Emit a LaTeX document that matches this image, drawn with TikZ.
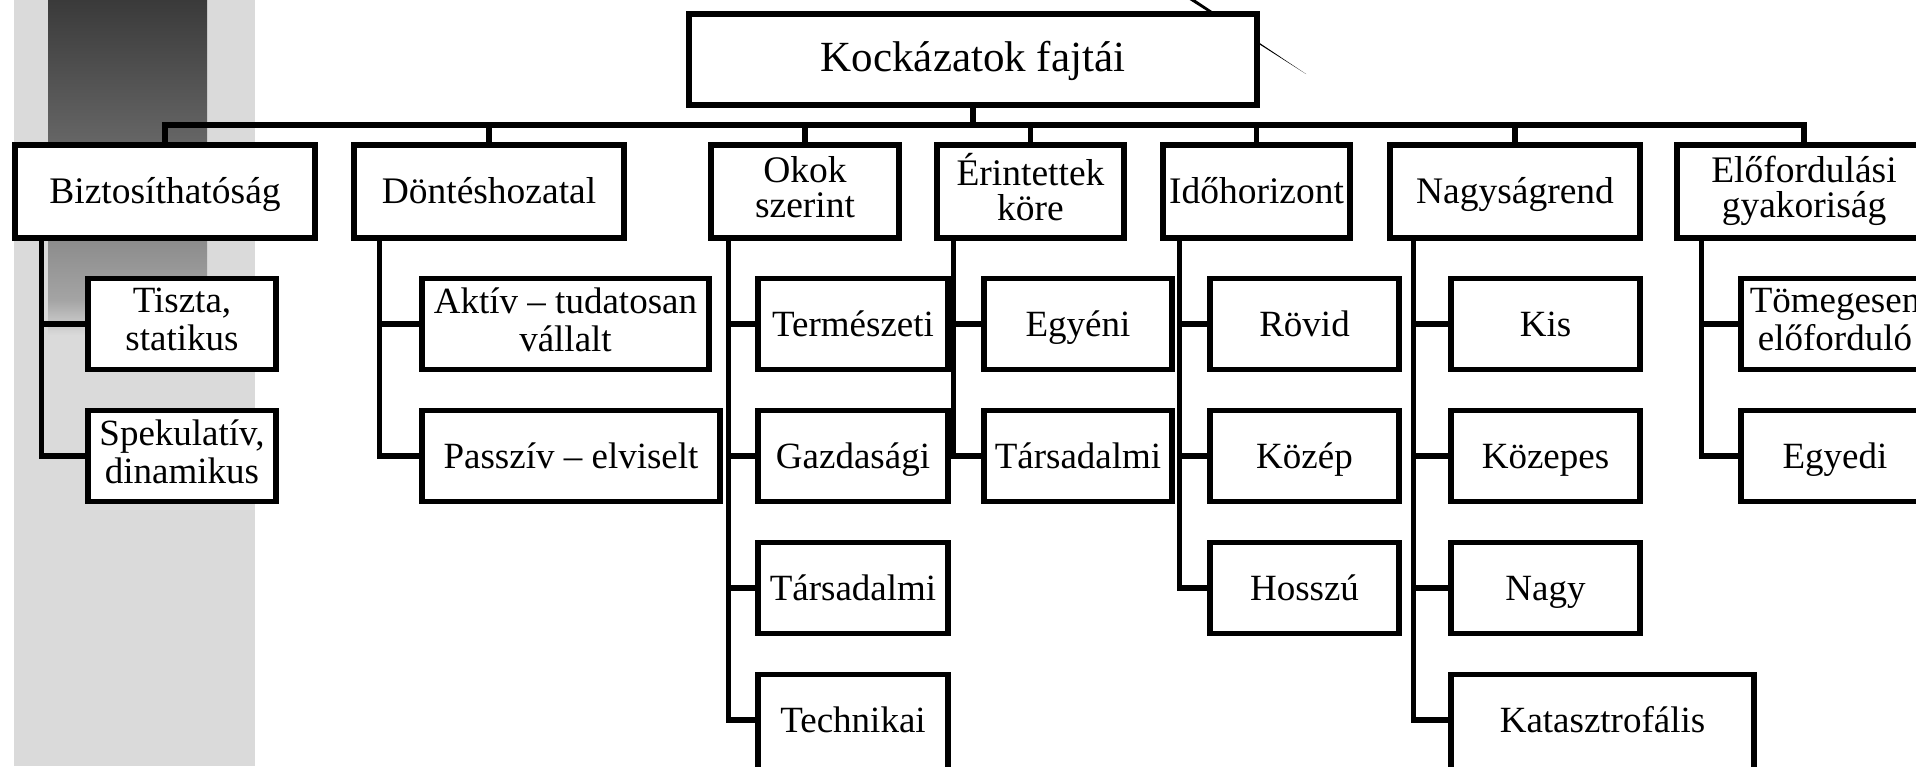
\documentclass[tikz,border=0pt]{standalone}
\usepackage{fontspec}
\setmainfont{Liberation Serif}
\definecolor{stripgray}{HTML}{DADADA}
\definecolor{bartop}{HTML}{3A3A3A}
\definecolor{barmid}{HTML}{686868}
\definecolor{barlow}{HTML}{A4A4A4}
\newcommand{\topstrut}{\rule{0pt}{17pt}}
\newcommand{\botstrut}{\rule[-4.8pt]{0pt}{4.8pt}}
\begin{document}
\begin{tikzpicture}[x=0.5pt,y=-0.5pt,
  box/.style={draw=black, line width=2.75pt, fill=white, inner sep=0pt, align=center,
    font=\fontsize{18.5}{19}\selectfont, minimum height=45.5pt,
    execute at begin node={\topstrut}, execute at end node={\botstrut}},
  lone/.style={box, minimum height=46.5pt, font=\fontsize{18.75}{17.5}\selectfont},
  conn/.style={draw=black, line width=2.75pt, line join=miter},
]
\useasboundingbox (0,0) rectangle (1916,766);
\clip (0,0) rectangle (1916,766);
% background strip
\fill[stripgray] (14,0) rectangle (255,766);
\shade[top color=bartop, bottom color=barmid] (48,0) rectangle (207,150);
\shade[top color=barmid, bottom color=barlow] (48,150) rectangle (207,300);
\shade[top color=barlow, bottom color=stripgray] (48,300) rectangle (207,335);
% diagonal decoration line
\fill[black] (1185,-3) -- (1191,-3) -- (1306,74) -- cycle;
% root
\node[box, font=\fontsize{21.5}{22}\selectfont, minimum width=284pt] (root) at (973,59.5) {Kockázatok fajtái};
\coordinate (bus) at (0,125);
% level 1
\node[lone, minimum width=150pt] (bizt) at (165,191.5) {Biztosíthatóság};
\node[lone, minimum width=135pt] (dont) at (489,191.5) {Döntéshozatal};
\node[lone, minimum width=94pt] (okok) at (805,191.5) {Okok\\szerint};
\node[lone, minimum width=93.5pt] (erin) at (1030.5,191.5) {Érintettek\\köre};
\node[lone, minimum width=93.5pt] (ido) at (1256.5,191.5) {Időhorizont};
\node[lone, minimum width=125pt] (nagy) at (1515,191.5) {Nagyságrend};
\node[lone, minimum width=127pt] (elof) at (1804,191.5) {Előfordulási\\gyakoriság};
% level 2
\node[box, minimum width=94pt] (bz1) at (182,324) {Tiszta,\\statikus};
\node[box, minimum width=94pt] (bz2) at (182,456) {Spekulatív,\\dinamikus};
\node[box, minimum width=143.5pt] (dn1) at (565.5,324) {Aktív – tudatosan\\vállalt};
\node[box, minimum width=149pt] (dn2) at (571,456) {Passzív – elviselt};
\node[box, minimum width=95pt] (ok1) at (853,324) {Természeti};
\node[box, minimum width=95pt] (ok2) at (853,456) {Gazdasági};
\node[box, minimum width=95pt] (ok3) at (853,588) {Társadalmi};
\node[box, minimum width=95pt, minimum height=55pt] (ok4) at (853,729.5) {\raisebox{4.75pt}[17pt][4.8pt]{Technikai}};
\node[box, minimum width=94pt] (er1) at (1078,324) {Egyéni};
\node[box, minimum width=94pt] (er2) at (1078,456) {Társadalmi};
\node[box, minimum width=94.5pt] (id1) at (1304.5,324) {Rövid};
\node[box, minimum width=94.5pt] (id2) at (1304.5,456) {Közép};
\node[box, minimum width=94.5pt] (id3) at (1304.5,588) {Hosszú};
\node[box, minimum width=94.5pt] (ng1) at (1545.5,324) {Kis};
\node[box, minimum width=94.5pt] (ng2) at (1545.5,456) {Közepes};
\node[box, minimum width=94.5pt] (ng3) at (1545.5,588) {Nagy};
\node[box, minimum width=151.5pt, minimum height=55pt] (ng4) at (1602.5,729.5) {\raisebox{4.75pt}[17pt][4.8pt]{Katasztrofális}};
\node[box, minimum width=94pt] (el1) at (1835,324) {Tömegesen\\előforduló};
\node[box, minimum width=94pt] (el2) at (1835,456) {Egyedi};
% connectors: bus
\draw[conn] (root.south) -- (root.south |- bus);
\draw[conn] (bizt.north) -- (bizt.north |- bus) -| (elof.north);
\foreach \n in {dont,okok,erin,ido,nagy}{
  \draw[conn] (\n.north) -- (\n.north |- bus);
}
% connectors: spines
\draw[conn] ([xshift=14.5pt]bizt.south west) |- (bz1.west);
\draw[conn] ([xshift=14.5pt]bizt.south west) |- (bz2.west);
\draw[conn] ([xshift=14pt]dont.south west) |- (dn1.west);
\draw[conn] ([xshift=14pt]dont.south west) |- (dn2.west);
\draw[conn] ([xshift=10pt]okok.south west) |- (ok1.west);
\draw[conn] ([xshift=10pt]okok.south west) |- (ok2.west);
\draw[conn] ([xshift=10pt]okok.south west) |- (ok3.west);
\draw[conn] ([xshift=10pt]okok.south west) |- ([yshift=4.75pt]ok4.west);
\draw[conn] ([xshift=9.5pt]erin.south west) |- (er1.west);
\draw[conn] ([xshift=9.5pt]erin.south west) |- (er2.west);
\draw[conn] ([xshift=9.5pt]ido.south west) |- (id1.west);
\draw[conn] ([xshift=9.5pt]ido.south west) |- (id2.west);
\draw[conn] ([xshift=9.5pt]ido.south west) |- (id3.west);
\draw[conn] ([xshift=13pt]nagy.south west) |- (ng1.west);
\draw[conn] ([xshift=13pt]nagy.south west) |- (ng2.west);
\draw[conn] ([xshift=13pt]nagy.south west) |- (ng3.west);
\draw[conn] ([xshift=13pt]nagy.south west) |- ([yshift=4.75pt]ng4.west);
\draw[conn] ([xshift=13.5pt]elof.south west) |- (el1.west);
\draw[conn] ([xshift=13.5pt]elof.south west) |- (el2.west);
\end{tikzpicture}
\end{document}
